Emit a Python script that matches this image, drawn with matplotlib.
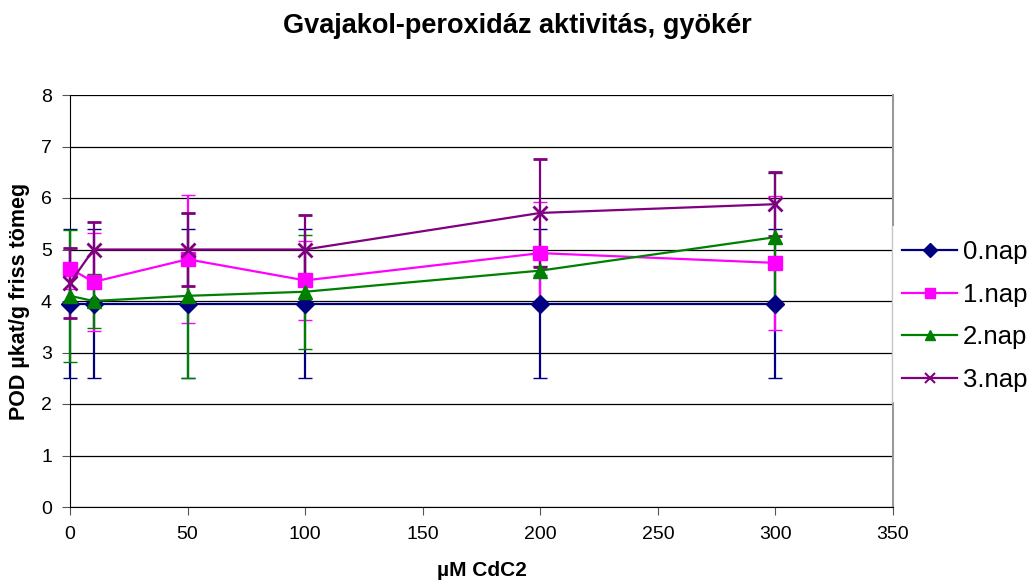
import matplotlib.pyplot as plt
from matplotlib.lines import Line2D
from matplotlib.patches import Rectangle

plt.rcParams['font.family'] = ['Liberation Sans', 'DejaVu Sans']

x = [0, 10, 50, 100, 200, 300]

nap0 = [3.95, 3.95, 3.95, 3.95, 3.95, 3.95]
nap0_err = [1.45, 1.45, 1.45, 1.45, 1.45, 1.45]

nap1 = [4.63, 4.37, 4.81, 4.40, 4.93, 4.74]
nap1_err = [0.40, 0.95, 1.24, 0.77, 1.00, 1.30]

nap2 = [4.10, 4.00, 4.10, 4.18, 4.59, 5.24]
nap2_err = [1.28, 0.53, 1.60, 1.11, 0.08, 1.24]

nap3 = [4.35, 5.00, 5.00, 5.00, 5.71, 5.88]
nap3_err = [0.68, 0.53, 0.71, 0.67, 1.05, 0.62]

series = [
    ('0.nap', nap0, nap0_err, '#000080', 'D', 9),
    ('1.nap', nap1, nap1_err, '#FF00FF', 's', 10),
    ('2.nap', nap2, nap2_err, '#008000', '^', 10),
    ('3.nap', nap3, nap3_err, '#800080', 'x', 10),
]

W, H = 1034, 586
fig = plt.figure(figsize=(W / 100, H / 100), dpi=100)
ax = fig.add_axes([70 / W, 79 / H, 823 / W, 412 / H])

handles = []
for name, vals, errs, col, mk, ms in series:
    eb = ax.errorbar(x, vals, yerr=errs, color=col, marker=mk, markersize=ms,
                     markeredgewidth=2 if mk == 'x' else 1, linewidth=1.6,
                     elinewidth=1.6, capsize=5, capthick=1.6, zorder=3)
    # let the x=0 bars hang over the axis like in excel
    eb[0].set_clip_on(False)
    for c in eb[1]:
        c.set_clip_on(False)
    for b in eb[2]:
        b.set_clip_on(False)
    handles.append(Line2D([], [], color=col, marker=mk, markersize=ms * 0.75,
                          markeredgewidth=1.5 if mk == 'x' else 1,
                          linewidth=1.6, label=name))

ax.set_xlim(0, 350)
ax.set_ylim(0, 8)
ax.set_xticks(range(0, 351, 50))
ax.set_yticks(range(0, 9))
ax.yaxis.grid(True, color='black', linewidth=0.9)
ax.set_axisbelow(True)
ax.tick_params(labelsize=14, length=6, direction='out', color='#555555')
ax.tick_params(axis='x', pad=8)
ax.tick_params(axis='y', pad=7)
for s in ['left', 'bottom']:
    ax.spines[s].set_color('black')
ax.spines['top'].set_visible(False)
ax.spines['right'].set_color('#999999')
ax.spines['right'].set_linewidth(1.5)

ax.set_xlabel('µM CdC2', fontsize=15, fontweight='bold', labelpad=13)
ax.set_ylabel('POD µkat/g friss tömeg', fontsize=15.5, fontweight='bold', labelpad=8)
fig.text(0.5, 1 - 33 / H, 'Gvajakol-peroxidáz aktivitás, gyökér',
         ha='center', va='baseline', fontsize=19.5, fontweight='bold')

# legend box: white, only a light left edge shows
box_top, box_bot = 226, 402
fig.add_artist(Rectangle((892 / W, 1 - box_bot / H), (W - 892) / W,
                         (box_bot - box_top) / H, transform=fig.transFigure,
                         facecolor='white', edgecolor='none', zorder=4))
fig.add_artist(Line2D([892 / W, 892 / W], [1 - box_top / H, 1 - box_bot / H],
                      transform=fig.transFigure, color='#c8c8c8',
                      linewidth=1, zorder=4))

leg = fig.legend(handles=handles, loc='upper left',
                 bbox_to_anchor=(888 / W, 1 - box_top / H),
                 fontsize=18.5, frameon=False,
                 handlelength=2.15, handletextpad=0.2, labelspacing=0.72,
                 borderaxespad=0, borderpad=0.55)
leg.set_zorder(5)

plt.savefig('out.png', dpi=100)
